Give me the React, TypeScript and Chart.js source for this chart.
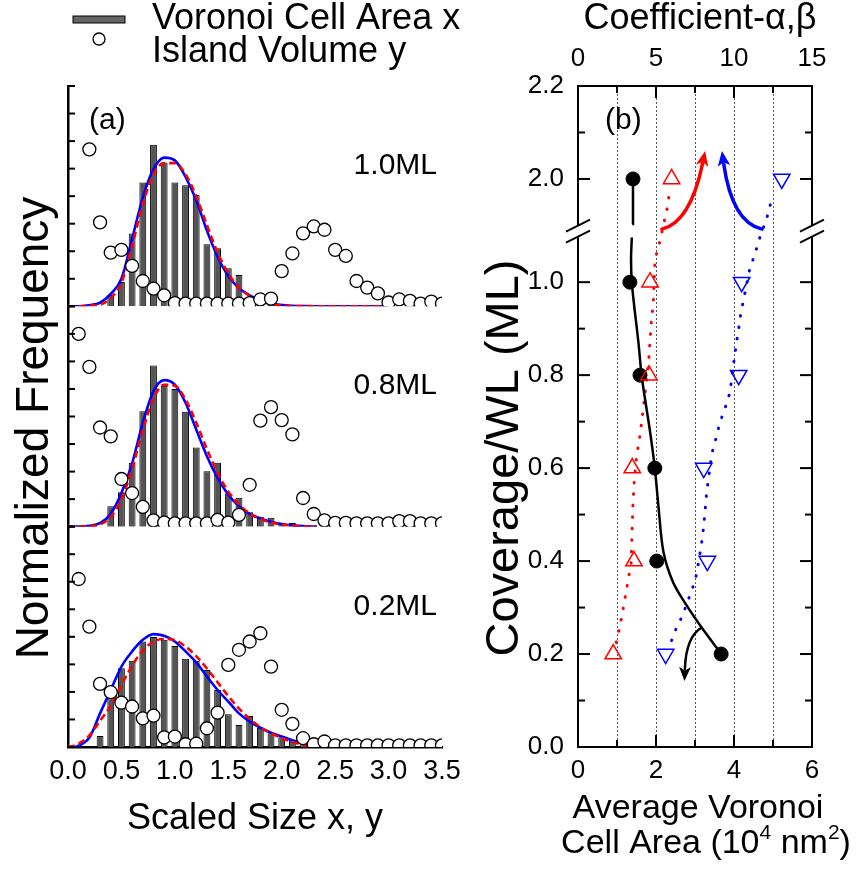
import React, { useEffect, useRef } from 'react';
import { Chart, registerables } from 'chart.js';
Chart.register(...registerables);

const FONT = '"Liberation Sans", Arial, Helvetica, sans-serif';

// ---------------- Panel (a) data ----------------
const BAR_X = [0.3, 0.4, 0.5, 0.6, 0.7, 0.8, 0.9, 1.0, 1.1, 1.2, 1.3, 1.4, 1.5, 1.6, 1.7, 1.8, 1.9, 2.0, 2.1, 2.2];
const AREA_10ML = [null, 0.41, 0.88, 2.64, 4.5, 5.87, 5.22, 4.5, 4.4, 4.04, 2.25, 2.11, 1.38, 1.14, 0.33, 0.12, 0.05, null, null, null];
const AREA_08ML = [null, 0.74, 1.25, 2.32, 4.19, 5.85, 5.12, 5.0, 4.17, 2.87, 2.01, 2.32, 1.2, 1.05, 0.52, 0.36, 0.32, 0.11, 0.13, null];
const AREA_02ML = [0.4, 1.77, 2.86, 3.13, 3.83, 3.99, 3.89, 3.67, 3.2, 3.13, 2.8, 2.07, 1.19, 0.8, 1.13, 0.7, 0.5, 0.35, 0.25, 0.1];

const VOL_X = [0.1, 0.2, 0.3, 0.4, 0.5, 0.6, 0.7, 0.8, 0.9, 1.0, 1.1, 1.2, 1.3, 1.4, 1.5, 1.6, 1.7, 1.8, 1.9, 2.0, 2.1, 2.2, 2.3, 2.4, 2.5, 2.6, 2.7, 2.8, 2.9, 3.0, 3.1, 3.2, 3.3, 3.4, 3.5];
const VOL_10ML = [null, 5.7, 3.05, 1.95, 2.05, 1.47, 0.92, 0.64, 0.4, 0.12, 0.1, 0.1, 0.1, 0.1, 0.1, 0.1, 0.12, 0.25, 0.28, 1.28, 1.92, 2.65, 2.9, 2.78, 2.05, 1.83, 0.92, 0.68, 0.47, 0.14, 0.25, 0.2, 0.1, 0.17, 0.1];
const VOL_08ML = [7.0, 5.8, 3.6, 3.28, 1.73, 1.22, 0.72, 0.23, 0.15, 0.12, 0.12, 0.12, 0.12, 0.25, 0.15, 0.43, 1.52, 3.85, 4.34, 3.87, 3.35, 1.04, 0.46, 0.23, 0.14, 0.14, 0.12, 0.12, 0.12, 0.12, 0.2, 0.2, 0.12, 0.12, 0.12];
const VOL_02ML = [6.1, 4.37, 2.29, 1.99, 1.61, 1.47, 1.04, 1.14, 0.35, 0.38, 0.1, 0.12, 0.68, 1.25, 2.98, 3.53, 3.83, 4.13, 2.92, 1.35, 0.84, 0.32, 0.1, 0.2, 0.06, 0.06, 0.06, 0.06, 0.06, 0.06, 0.06, 0.06, 0.06, 0.06, 0.06];

const FIT_X_10ML = [0.0, 0.1, 0.2, 0.3, 0.4, 0.5, 0.6, 0.7, 0.8, 0.9, 1.0, 1.1, 1.2, 1.3, 1.4, 1.5, 1.6, 1.7, 1.8, 1.9, 2.0, 2.2, 2.5, 3.0];
const BLUE_10ML = [0, 0.005, 0.04, 0.13, 0.45, 1.0, 2.45, 3.95, 4.98, 5.4, 5.3, 4.7, 3.85, 2.75, 1.8, 1.1, 0.66, 0.4, 0.22, 0.1, 0.05, 0.01, 0, 0];
const RED_10ML = [0, 0.003, 0.02, 0.06, 0.3, 0.85, 2.2, 3.7, 4.8, 5.2, 5.2, 4.8, 4.0, 2.95, 1.95, 1.2, 0.68, 0.38, 0.18, 0.08, 0.03, 0.01, 0, 0];

const FIT_X_08ML = [0.0, 0.1, 0.2, 0.3, 0.4, 0.5, 0.6, 0.7, 0.8, 0.9, 1.0, 1.1, 1.2, 1.3, 1.4, 1.5, 1.6, 1.7, 1.8, 1.9, 2.0, 2.1, 2.2, 2.33];
const BLUE_08ML = [0, 0.003, 0.03, 0.13, 0.47, 1.22, 2.3, 3.77, 4.92, 5.32, 5.16, 4.5, 3.53, 2.56, 1.77, 1.16, 0.74, 0.46, 0.3, 0.18, 0.1, 0.05, 0.02, 0];
const RED_08ML = [0, 0.002, 0.02, 0.08, 0.35, 1.0, 2.1, 3.5, 4.65, 5.15, 5.12, 4.62, 3.78, 2.82, 1.95, 1.28, 0.8, 0.48, 0.28, 0.15, 0.08, 0.04, 0.01, 0];

const FIT_X_02ML = [0.0, 0.05, 0.1, 0.2, 0.3, 0.4, 0.5, 0.6, 0.7, 0.8, 0.9, 1.0, 1.1, 1.2, 1.3, 1.4, 1.5, 1.6, 1.7, 1.8, 1.9, 2.0, 2.1, 2.2, 2.25];
const BLUE_02ML = [0, 0, 0.05, 0.34, 1.22, 2.07, 2.92, 3.47, 3.89, 4.1, 4.04, 3.83, 3.47, 3.07, 2.56, 2.07, 1.65, 1.22, 0.92, 0.7, 0.52, 0.38, 0.25, 0.12, 0.04];
const RED_02ML = [0, 0.04, 0.12, 0.42, 0.95, 1.5, 2.25, 2.95, 3.5, 3.82, 3.93, 3.88, 3.65, 3.3, 2.85, 2.35, 1.85, 1.4, 1.02, 0.72, 0.5, 0.32, 0.18, 0.07, 0];

const X_TICKS_A = [0, 0.5, 1.0, 1.5, 2.0, 2.5, 3.0, 3.5];
const PANEL_LABELS = ['1.0ML', '0.8ML', '0.2ML'];

// ---------------- Panel (b) data ----------------
const COVERAGE = [0.2, 0.4, 0.6, 0.8, 1.0, 2.0];
const AVG_AREA = [3.67, 2.02, 1.97, 1.59, 1.33, 1.41];
const ALPHA = [2.26, 3.59, 3.48, 4.55, 4.62, 6.0];
const BETA = [5.62, 8.29, 8.06, 10.3, 10.49, 13.06];

const AREA_FIT_X = [3.64, 3.17, 2.79, 2.44, 2.19, 2.06, 1.97, 1.85, 1.72, 1.63, 1.55, 1.46, 1.38, 1.36, 1.38];
const AREA_FIT_Y = [0.204, 0.257, 0.304, 0.354, 0.42, 0.52, 0.6, 0.677, 0.748, 0.8, 0.87, 0.935, 1.0, 1.05, 1.096];
const AREA_FIT_UP_X = [1.39, 1.41];
const AREA_FIT_UP_Y = [1.903, 2.0];

const ALPHA_FIT_X = [2.45, 2.65, 2.95, 3.22, 3.4, 3.46, 3.52, 3.62, 3.76, 3.97, 4.23, 4.51, 4.68, 4.83, 4.94, 5.26, 5.58, 5.75, 5.86];
const ALPHA_FIT_Y = [0.225, 0.254, 0.307, 0.361, 0.394, 0.45, 0.52, 0.58, 0.626, 0.669, 0.741, 0.82, 0.906, 0.956, 1.049, 1.089, 1.917, 1.942, 1.971];
const BETA_FIT_X = [6.0, 6.32, 6.69, 6.96, 7.29, 7.54, 7.71, 7.82, 7.99, 8.14, 8.25, 8.57, 8.78, 9.1, 9.49, 9.74, 9.96, 10.13, 10.28, 10.43, 10.56, 11.03, 11.35, 11.56, 12.1, 12.31, 12.52];
const BETA_FIT_Y = [0.229, 0.257, 0.282, 0.307, 0.336, 0.363, 0.394, 0.417, 0.453, 0.505, 0.548, 0.63, 0.655, 0.698, 0.735, 0.763, 0.82, 0.863, 0.895, 0.931, 0.953, 1.032, 1.06, 1.087, 1.915, 1.942, 1.967];

// trend arrows: [x (avg area), coverage]
const RED_ARROW = [[2.15, 1.114], [2.88, 1.129], [3.26, 2.06]];
const BLUE_ARROW = [[4.72, 1.114], [3.95, 1.129], [3.69, 2.06]];
const BLACK_ARROW = [[3.17, 0.257], [2.77, 0.237], [2.73, 0.142]];

const Y_TICKS_B = [0, 0.2, 0.4, 0.6, 0.8, 1.0, 2.0, 2.2];
const Y_MINOR_B = [0.1, 0.3, 0.5, 0.7, 0.9, 2.1];
const X_TICKS_B = [0, 2, 4, 6];
const X_MINOR_B = [1, 3, 5];
const X2_TICKS_B = [0, 5, 10, 15];
const X2_MINOR_B = [2.5, 7.5, 12.5];
const GRID_B = [1, 2, 3, 4, 5];

// broken coverage axis
const SHIFT = 0.778;
const BREAK_AT = 1.11;
const disp = (v: number) => (v > 1.5 ? v - SHIFT : v);
const realOf = (d: number) => (d > BREAK_AT + 0.001 ? d + SHIFT : d);
const Y_MAX_B = disp(2.2);

const pts = (xs: number[], ys: (number | null)[]) =>
  xs.map((x, i) => ({ x, y: ys[i] as number })).filter((p) => p.y !== null && p.y !== undefined);
const ptsB = (xs: number[], ys: number[]) => xs.map((x, i) => ({ x, y: disp(ys[i]) }));

function line(ctx: CanvasRenderingContext2D, x1: number, y1: number, x2: number, y2: number) {
  ctx.beginPath();
  ctx.moveTo(x1, y1);
  ctx.lineTo(x2, y2);
  ctx.stroke();
}

// ---------------- Left chart ----------------
const leftPlugin = {
  id: 'leftDecor',
  afterDraw(chart: any) {
    const ctx: CanvasRenderingContext2D = chart.ctx;
    const ca = chart.chartArea;
    ctx.save();
    ctx.strokeStyle = '#000';
    ctx.lineWidth = 2;
    const ids = ['yTop', 'yMid', 'yBot'];
    ids.forEach((id) => {
      const s = chart.scales[id];
      for (let v = 0; v <= 8; v++) {
        const py = s.getPixelForValue(v);
        line(ctx, ca.left, py, ca.left + 7, py);
      }
    });
    ctx.fillStyle = '#000';
    ctx.font = `30px ${FONT}`;
    ctx.textAlign = 'right';
    ctx.textBaseline = 'middle';
    ids.forEach((id, i) => {
      const s = chart.scales[id];
      ctx.fillText(PANEL_LABELS[i], ca.right - 5, s.getPixelForValue(5.1));
    });
    ctx.textAlign = 'left';
    ctx.fillText('(a)', ca.left + 21, ca.top + 35);

    // legend
    ctx.font = `36px ${FONT}`;
    ctx.fillStyle = '#666';
    ctx.fillRect(73, 16, 52, 7);
    ctx.lineWidth = 1;
    ctx.strokeRect(73, 16, 52, 7);
    ctx.beginPath();
    ctx.arc(99, 39, 6, 0, Math.PI * 2);
    ctx.fillStyle = '#fff';
    ctx.fill();
    ctx.lineWidth = 1.3;
    ctx.stroke();
    ctx.fillStyle = '#000';
    ctx.fillText('Voronoi Cell Area x', 152, 19);
    ctx.fillText('Island Volume y', 152, 52);

    // titles
    ctx.textAlign = 'center';
    ctx.font = `36px ${FONT}`;
    ctx.fillText('Scaled Size x, y', (ca.left + ca.right) / 2, 819);
    ctx.save();
    ctx.translate(35, 428);
    ctx.rotate(-Math.PI / 2);
    ctx.font = `46px ${FONT}`;
    ctx.fillText('Normalized Frequency', 0, 0);
    ctx.restore();
    ctx.restore();
  },
};

function leftConfig(): any {
  const bars = (ys: (number | null)[], axis: string) => ({
    type: 'bar',
    data: pts(BAR_X, ys),
    xAxisID: 'x',
    yAxisID: axis,
    backgroundColor: '#555',
    borderColor: '#000',
    borderWidth: 1,
    barPercentage: 0.64,
    categoryPercentage: 1,
    grouped: false,
    order: 3,
  });
  const circles = (ys: (number | null)[], axis: string) => ({
    type: 'scatter',
    data: pts(VOL_X, ys),
    xAxisID: 'x',
    yAxisID: axis,
    showLine: false,
    pointRadius: 6.5,
    pointBorderWidth: 1.3,
    pointBorderColor: '#000',
    pointBackgroundColor: '#fff',
    order: 0,
  });
  const fit = (xs: number[], ys: number[], axis: string, color: string, dash: number[], order: number) => ({
    type: 'line',
    data: pts(xs, ys),
    xAxisID: 'x',
    yAxisID: axis,
    borderColor: color,
    borderWidth: 2.6,
    borderDash: dash,
    pointRadius: 0,
    fill: false,
    cubicInterpolationMode: 'monotone',
    order,
  });
  const yAxis = () => ({
    type: 'linear',
    position: 'left',
    stack: 'panels',
    stackWeight: 1,
    min: 0,
    max: 8,
    ticks: { display: false },
    grid: { display: false, drawTicks: false },
    border: { display: true, color: '#000', width: 2.5 },
    afterFit: (s: any) => {
      s.width = 60;
    },
  });
  return {
    type: 'line',
    data: {
      datasets: [
        bars(AREA_10ML, 'yTop'),
        bars(AREA_08ML, 'yMid'),
        bars(AREA_02ML, 'yBot'),
        fit(FIT_X_10ML, BLUE_10ML, 'yTop', '#0000ff', [], 2),
        fit(FIT_X_10ML, RED_10ML, 'yTop', '#ff0000', [7, 4], 1),
        fit(FIT_X_08ML, BLUE_08ML, 'yMid', '#0000ff', [], 2),
        fit(FIT_X_08ML, RED_08ML, 'yMid', '#ff0000', [7, 4], 1),
        fit(FIT_X_02ML, BLUE_02ML, 'yBot', '#0000ff', [], 2),
        fit(FIT_X_02ML, RED_02ML, 'yBot', '#ff0000', [7, 4], 1),
        circles(VOL_10ML, 'yTop'),
        circles(VOL_08ML, 'yMid'),
        circles(VOL_02ML, 'yBot'),
      ],
    },
    options: {
      responsive: false,
      animation: false,
      devicePixelRatio: 1,
      layout: { padding: { left: 8, right: 38, top: 86, bottom: 0 } },
      plugins: { legend: { display: false }, tooltip: { enabled: false } },
      scales: {
        x: {
          type: 'linear',
          position: 'bottom',
          min: 0,
          max: 3.5,
          offset: false,
          afterBuildTicks: (s: any) => {
            s.ticks = X_TICKS_A.map((v) => ({ value: v }));
          },
          ticks: {
            callback: (v: any) => Number(v).toFixed(1),
            font: { family: FONT, size: 27 },
            color: '#000',
            padding: 8,
            maxRotation: 0,
            autoSkip: false,
          },
          grid: { display: false, drawTicks: false },
          border: { display: true, color: '#000', width: 2.5 },
          afterFit: (s: any) => {
            s.height = 126;
          },
        },
        yBot: yAxis(),
        yMid: yAxis(),
        yTop: yAxis(),
      },
    },
    plugins: [leftPlugin],
  };
}

// ---------------- Right chart ----------------
function drawArrow(ctx: CanvasRenderingContext2D, chart: any, spec: number[][], color: string, width: number, head: number) {
  const xs = chart.scales.x;
  const ys = chart.scales.y;
  const p = spec.map(([x, y]) => [xs.getPixelForValue(x), ys.getPixelForValue(disp(y))]);
  const [s, c, e] = p;
  let dx = e[0] - c[0];
  let dy = e[1] - c[1];
  const len = Math.hypot(dx, dy);
  dx /= len;
  dy /= len;
  const bx = e[0] - dx * head;
  const by = e[1] - dy * head;
  ctx.strokeStyle = color;
  ctx.fillStyle = color;
  ctx.lineWidth = width;
  ctx.lineCap = 'round';
  ctx.beginPath();
  ctx.moveTo(s[0], s[1]);
  ctx.quadraticCurveTo(c[0], c[1], bx + dx * 2, by + dy * 2);
  ctx.stroke();
  const hw = head * 0.42;
  ctx.beginPath();
  ctx.moveTo(e[0], e[1]);
  ctx.lineTo(bx - dy * hw, by + dx * hw);
  ctx.lineTo(bx + dx * head * 0.25, by + dy * head * 0.25);
  ctx.lineTo(bx + dy * hw, by - dx * hw);
  ctx.closePath();
  ctx.fill();
}

function drawRich(ctx: CanvasRenderingContext2D, parts: [string, boolean][], cx: number, cy: number, size: number) {
  const big = `${size}px ${FONT}`;
  const small = `${Math.round(size * 0.62)}px ${FONT}`;
  let total = 0;
  parts.forEach(([t, sup]) => {
    ctx.font = sup ? small : big;
    total += ctx.measureText(t).width;
  });
  let x = cx - total / 2;
  ctx.textAlign = 'left';
  parts.forEach(([t, sup]) => {
    ctx.font = sup ? small : big;
    ctx.fillText(t, x, sup ? cy - size * 0.33 : cy);
    x += ctx.measureText(t).width;
  });
}

const rightPlugin = {
  id: 'rightDecor',
  beforeDatasetsDraw(chart: any) {
    const ctx: CanvasRenderingContext2D = chart.ctx;
    const ca = chart.chartArea;
    const xs = chart.scales.x;
    ctx.save();
    ctx.strokeStyle = '#555';
    ctx.lineWidth = 1;
    ctx.setLineDash([2, 2]);
    GRID_B.forEach((v) => {
      const px = Math.round(xs.getPixelForValue(v)) + 0.5;
      line(ctx, px, ca.top, px, ca.bottom);
    });
    ctx.restore();
  },
  afterDraw(chart: any) {
    const ctx: CanvasRenderingContext2D = chart.ctx;
    const ca = chart.chartArea;
    const xs = chart.scales.x;
    const x2 = chart.scales.x2;
    const ys = chart.scales.y;
    ctx.save();
    ctx.strokeStyle = '#000';
    ctx.lineWidth = 2;
    const yTick = (v: number, len: number) => {
      const py = ys.getPixelForValue(disp(v));
      line(ctx, ca.left, py, ca.left + len, py);
      line(ctx, ca.right - len, py, ca.right, py);
    };
    Y_TICKS_B.forEach((v) => yTick(v, 12));
    Y_MINOR_B.forEach((v) => yTick(v, 7));
    X_TICKS_B.forEach((v) => {
      const px = xs.getPixelForValue(v);
      line(ctx, px, ca.bottom, px, ca.bottom - 12);
    });
    X_MINOR_B.forEach((v) => {
      const px = xs.getPixelForValue(v);
      line(ctx, px, ca.bottom, px, ca.bottom - 7);
    });
    X2_TICKS_B.forEach((v) => {
      const px = x2.getPixelForValue(v);
      line(ctx, px, ca.top, px, ca.top + 12);
    });
    X2_MINOR_B.forEach((v) => {
      const px = x2.getPixelForValue(v);
      line(ctx, px, ca.top, px, ca.top + 7);
    });

    // axis break marks
    const pb = ys.getPixelForValue(BREAK_AT);
    [ca.left, ca.right].forEach((ax) => {
      ctx.fillStyle = '#fff';
      ctx.fillRect(ax - 3, pb - 5.5, 6, 11);
      ctx.strokeStyle = '#000';
      ctx.lineWidth = 2;
      [-5.5, 5.5].forEach((off) => line(ctx, ax - 12, pb + off + 6, ax + 12, pb + off - 6));
    });

    drawArrow(ctx, chart, RED_ARROW, '#ff0000', 3.5, 15);
    drawArrow(ctx, chart, BLUE_ARROW, '#0000ff', 3.5, 15);
    drawArrow(ctx, chart, BLACK_ARROW, '#000', 2.5, 14);

    ctx.fillStyle = '#000';
    ctx.textBaseline = 'middle';
    ctx.textAlign = 'left';
    ctx.font = `30px ${FONT}`;
    ctx.fillText('(b)', ca.left + 27, ca.top + 35);

    ctx.textAlign = 'center';
    ctx.font = `36px ${FONT}`;
    ctx.fillText('Coefficient-\u03b1,\u03b2', ca.left + 122, 19);
    ctx.font = `34px ${FONT}`;
    ctx.fillText('Average Voronoi', ca.left + 120, 809);
    drawRich(
      ctx,
      [
        ['Cell Area (10', false],
        ['4', true],
        [' nm', false],
        ['2', true],
        [')', false],
      ],
      ca.left + 128,
      844,
      34,
    );
    ctx.save();
    ctx.translate(25, 458);
    ctx.rotate(-Math.PI / 2);
    ctx.textAlign = 'center';
    ctx.font = `47px ${FONT}`;
    ctx.fillText('Coverage/WL (ML)', 0, 0);
    ctx.restore();
    ctx.restore();
  },
};

function rightConfig(): any {
  const tickFont = { family: FONT, size: 26 };
  return {
    type: 'line',
    data: {
      datasets: [
        {
          type: 'line',
          data: ptsB(AREA_FIT_X, AREA_FIT_Y),
          xAxisID: 'x',
          yAxisID: 'y',
          borderColor: '#000',
          borderWidth: 2.5,
          pointRadius: 0,
          tension: 0.3,
          fill: false,
          order: 2,
        },
        {
          type: 'line',
          data: ptsB(AREA_FIT_UP_X, AREA_FIT_UP_Y),
          xAxisID: 'x',
          yAxisID: 'y',
          borderColor: '#000',
          borderWidth: 2.5,
          pointRadius: 0,
          fill: false,
          order: 2,
        },
        {
          type: 'line',
          data: ptsB(ALPHA_FIT_X, ALPHA_FIT_Y),
          xAxisID: 'x2',
          yAxisID: 'y',
          borderColor: '#ff0000',
          borderWidth: 3,
          borderDash: [0.5, 11],
          borderCapStyle: 'round',
          pointRadius: 0,
          fill: false,
          order: 3,
        },
        {
          type: 'line',
          data: ptsB(BETA_FIT_X, BETA_FIT_Y),
          xAxisID: 'x2',
          yAxisID: 'y',
          borderColor: '#0000ff',
          borderWidth: 3,
          borderDash: [0.5, 11],
          borderCapStyle: 'round',
          pointRadius: 0,
          fill: false,
          order: 3,
        },
        {
          type: 'scatter',
          data: ptsB(AVG_AREA, COVERAGE),
          xAxisID: 'x',
          yAxisID: 'y',
          showLine: false,
          pointRadius: 7,
          pointBackgroundColor: '#000',
          pointBorderColor: '#000',
          order: 1,
        },
        {
          type: 'scatter',
          data: ptsB(ALPHA, COVERAGE),
          xAxisID: 'x2',
          yAxisID: 'y',
          showLine: false,
          pointStyle: 'triangle',
          pointRadius: 9.5,
          pointBorderWidth: 1.5,
          pointBorderColor: '#ff0000',
          pointBackgroundColor: 'rgba(0,0,0,0)',
          order: 0,
        },
        {
          type: 'scatter',
          data: ptsB(BETA, COVERAGE),
          xAxisID: 'x2',
          yAxisID: 'y',
          showLine: false,
          pointStyle: 'triangle',
          pointRotation: 180,
          pointRadius: 9.5,
          pointBorderWidth: 1.5,
          pointBorderColor: '#0000ff',
          pointBackgroundColor: 'rgba(0,0,0,0)',
          order: 0,
        },
      ],
    },
    options: {
      responsive: false,
      animation: false,
      devicePixelRatio: 1,
      layout: { padding: { left: 0, right: 44, top: 0, bottom: 0 } },
      plugins: { legend: { display: false }, tooltip: { enabled: false } },
      scales: {
        x: {
          type: 'linear',
          position: 'bottom',
          min: 0,
          max: 6,
          afterBuildTicks: (s: any) => {
            s.ticks = X_TICKS_B.map((v) => ({ value: v }));
          },
          ticks: { font: tickFont, color: '#000', padding: 8, maxRotation: 0, autoSkip: false },
          grid: { display: false, drawTicks: false },
          border: { display: true, color: '#000', width: 2 },
          afterFit: (s: any) => {
            s.height = 126;
          },
        },
        x2: {
          type: 'linear',
          position: 'top',
          min: 0,
          max: 15,
          afterBuildTicks: (s: any) => {
            s.ticks = X2_TICKS_B.map((v) => ({ value: v }));
          },
          ticks: { font: tickFont, color: '#000', padding: 12, maxRotation: 0, autoSkip: false },
          grid: { display: false, drawTicks: false },
          border: { display: true, color: '#000', width: 2 },
          afterFit: (s: any) => {
            s.height = 86;
          },
        },
        y: {
          type: 'linear',
          position: 'left',
          min: 0,
          max: Y_MAX_B,
          afterBuildTicks: (s: any) => {
            s.ticks = Y_TICKS_B.map((v) => ({ value: disp(v) }));
          },
          ticks: {
            font: tickFont,
            color: '#000',
            padding: 14,
            autoSkip: false,
            callback: (v: any) => realOf(Number(v)).toFixed(1),
          },
          grid: { display: false, drawTicks: false },
          border: { display: true, color: '#000', width: 2 },
          afterFit: (s: any) => {
            s.width = 98;
          },
        },
        y2: {
          type: 'linear',
          position: 'right',
          min: 0,
          max: Y_MAX_B,
          ticks: { display: false },
          grid: { display: false, drawTicks: false },
          border: { display: true, color: '#000', width: 2 },
          afterFit: (s: any) => {
            s.width = 1;
          },
        },
      },
    },
    plugins: [rightPlugin],
  };
}

export default function App() {
  const leftRef = useRef<HTMLCanvasElement>(null);
  const rightRef = useRef<HTMLCanvasElement>(null);
  useEffect(() => {
    const a = new Chart(leftRef.current as HTMLCanvasElement, leftConfig());
    const b = new Chart(rightRef.current as HTMLCanvasElement, rightConfig());
    return () => {
      a.destroy();
      b.destroy();
    };
  }, []);
  return (
    <div style={{ position: 'fixed', left: 0, top: 0, width: 857, height: 873, background: '#fff' }}>
      <canvas ref={leftRef} width={480} height={873} style={{ position: 'absolute', left: 0, top: 0, width: 480, height: 873 }} />
      <canvas ref={rightRef} width={377} height={873} style={{ position: 'absolute', left: 480, top: 0, width: 377, height: 873 }} />
    </div>
  );
}
